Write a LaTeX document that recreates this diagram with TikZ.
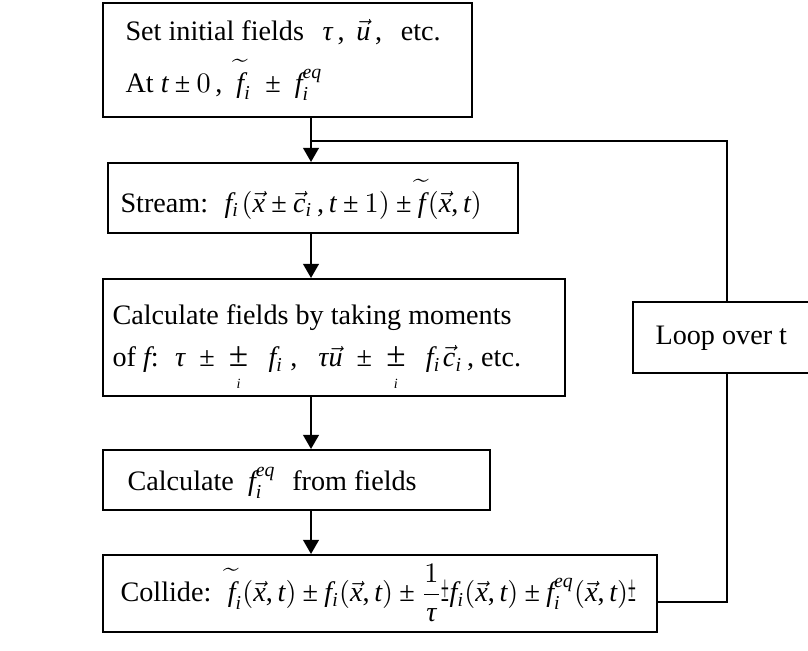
\documentclass[tikz,border=0pt]{standalone}
\usepackage{amsmath}
\usepackage{fontspec}
\setmainfont{Liberation Serif}
\usetikzlibrary{positioning,arrows.meta,fit}

% math letters, digits and signs taken from the text font
\DeclareSymbolFont{tletters}{TU}{\rmdefault}{m}{it}
\DeclareSymbolFont{tupright}{TU}{\rmdefault}{m}{n}
\makeatletter
\count@=`a
\loop
  \Umathcode\count@="7 \symtletters \count@
  \ifnum\count@<`z \advance\count@\@ne
\repeat
\count@=`0
\loop
  \Umathcode\count@="7 \symtupright \count@
  \ifnum\count@<`9 \advance\count@\@ne
\repeat
\makeatother
\Umathcode`(="4 \symtupright `(
\Umathcode`)="5 \symtupright `)
\Umathcode`,="6 \symtupright `,
\Umathchardef\tau="7 \symtletters "03C4
\Umathchardef\pm="2 \symtupright "00B1

\newcommand{\xv}{\vec{x}}
\newcommand{\cv}{\vec{c}}
\newcommand{\uv}{\vec{u}}
\newcommand{\tf}{\widetilde{f\rule{0pt}{0.9em}}}
\newcommand{\fsub}{f_i\mkern1.5mu}
\newcommand{\feq}{f_i^{eq}\mkern1.5mu}
\newcommand{\msum}{\mathop{\scalebox{1.25}{$\pm$}}\limits_{\rule{0pt}{6pt}\scriptscriptstyle i}}
\newcommand{\mbrk}{\mathord{\scalebox{0.5}[1.35]{$\pm$}}}

\tikzset{
  stepbox/.style={draw, line width=0.75pt, inner sep=0pt},
  steptext/.style={anchor=west, inner sep=0pt, align=left},
  flow/.style={-{Triangle[length=5pt,width=5.6pt]}, line width=0.6pt},
  loopline/.style={line width=0.6pt},
}

\begin{document}
\begin{tikzpicture}[x=0.355pt,y=-0.355pt]
\useasboundingbox (0,0) rectangle (808,650);
\clip (0,0) rectangle (808,650);

% boxes of one time step
\node[stepbox,fit={(103,3) (472,117)}] (init) {};
\node[stepbox,fit={(108,163) (518,233)}] (stream) {};
\node[stepbox,fit={(103,279) (565,396)}] (moments) {};
\node[stepbox,fit={(103,450) (490,510)}] (equil) {};
\node[stepbox,fit={(103,555) (657,632)}] (collide) {};
\node[stepbox,fit={(633,302) (812,373)}] (loop) {};

% what each box says
\node[steptext] (initT) at (125,60) {Set initial fields \ \,$\tau$\,, \,$\uv$\,, \ \,etc.\\[4pt]
  At $t\pm0$\,, \ $\tf_i \;\pm\; \feq$};
\node[steptext] (streamT) at (120,199) {Stream: \ $\fsub(\xv\pm\cv_i\,, t\pm1) \pm \tf\mkern1.5mu(\xv, t)$};
\node[steptext] (momentsT) at (112,348) {Calculate fields by taking moments\\[3pt]
  of $f$: \ $\tau \;\pm\; \msum\;\; \fsub$\,, \ \ $\tau\uv \;\pm\; \msum\;\; \fsub\cv_i$\,, etc.};
\node[steptext] (equilT) at (127,483) {Calculate \ $\feq$ \ from fields};
\node[steptext] (collideT) at (120,593) {Collide: \ $\tf_i(\xv, t) \pm f_i(\xv, t) \pm \dfrac{1}{\tau}\mbrk f_i(\xv, t) \pm f_i^{eq}(\xv, t)\mbrk$};
\node[steptext] (loopT) at (655,338) {Loop over t};

% flow down and the loop back
\coordinate (spine) at (311,0);
\coordinate (join) at (311,141);
\coordinate (turn) at (727,141);
\coordinate (ret) at (727,602);
\draw[flow] (init.south -| spine) -- (stream.north -| spine);
\draw[flow] (stream.south -| spine) -- (moments.north -| spine);
\draw[flow] (moments.south -| spine) -- (equil.north -| spine);
\draw[flow] (equil.south -| spine) -- (collide.north -| spine);
\draw[loopline] (collide.east |- ret) -- (ret) -- (loop.south -| ret);
\draw[loopline] (loop.north -| ret) -- (turn) -- (join);
\end{tikzpicture}
\end{document}
